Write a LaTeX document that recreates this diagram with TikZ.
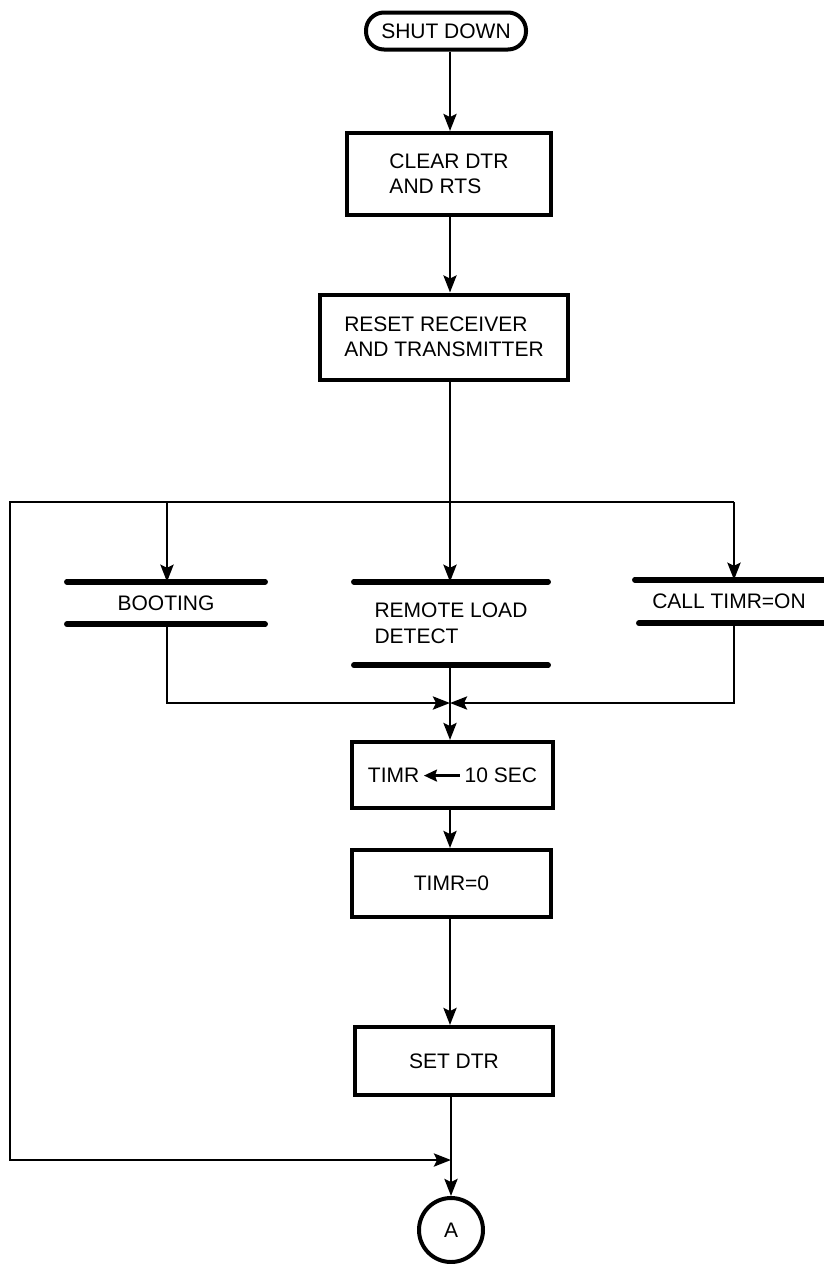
\documentclass[tikz,border=0pt]{standalone}
\usepackage{fontspec}
\setmainfont{Liberation Sans}
\usetikzlibrary{arrows.meta}

\begin{document}
\begin{tikzpicture}[x=1pt,y=-1pt,font=\fontsize{21}{25.5}\selectfont,
  box/.style={draw,line width=4pt,align=left,inner sep=0pt},
  store/.style={align=left,inner sep=0pt},
  bar/.style={line width=5.5pt,line cap=round},
  line/.style={line width=2.8pt},
  flow/.style={line width=2.8pt,-{Stealth[length=17pt,width=13pt,inset=3pt]}}]
  \useasboundingbox (0,0) rectangle (823,1264);
  % start and process boxes
  \node[box,rounded corners=18pt,minimum width=160pt,minimum height=37pt] (shut) at (446,31) {SHUT DOWN};
  \node[box,minimum width=204pt,minimum height=82pt] (clr) at (449,174) {CLEAR DTR\\AND RTS};
  \node[box,minimum width=248pt,minimum height=85pt] (rst) at (444,337) {RESET RECEIVER\\AND TRANSMITTER};
  \coordinate (spine) at (450,502);
  \coordinate (lTop) at (10,502);
  \coordinate (cTop) at (734,502);
  \coordinate (bTop) at (167,502);
  % the three states
  \node[store,minimum width=198pt,minimum height=42pt] (boot) at (166,603) {BOOTING};
  \node[store,minimum width=194pt,minimum height=83pt] (rld) at (451,623.5) {REMOTE LOAD\\DETECT};
  \node[store,minimum width=188pt,minimum height=43pt] (call) at (729,601.5) {CALL TIMR=ON};
  \foreach \n in {boot,rld} {
    \draw[bar] (\n.north west) -- (\n.north east) (\n.south west) -- (\n.south east);
  }
  \draw[bar] (call.north west) -- ++(200,0) (call.south west) ++(4,0) -- ++(200,0);
  \coordinate (merge) at (450,703);
  \node[box,minimum width=201pt,minimum height=66pt] (timr) at (452.5,775)
    {TIMR\,\tikz[baseline=-0.6ex]\draw[line width=2.4pt,{Stealth[length=13pt,width=12pt,inset=2pt]}-] (0pt,0pt) -- (36pt,0pt);\,10 SEC};
  \node[box,minimum width=199pt,minimum height=67pt] (zero) at (451.5,883.5) {TIMR=0};
  \node[box,minimum width=198pt,minimum height=68pt] (set) at (454,1061) {SET DTR};
  \coordinate (join) at (451,1160);
  \coordinate (lBot) at (10,1160);
  \node[draw,circle,line width=4pt,minimum size=64pt,inner sep=0pt] (A) at (451,1230) {A};
  % connectors
  \draw[flow] (shut.south -| spine) -- (clr.north -| spine);
  \draw[flow] (clr.south -| spine) -- (rst.north -| spine);
  \draw[line] (rst.south -| spine) -- (spine);
  \draw[line] (lTop) -- (cTop);
  \draw[flow] (bTop) -- (bTop |- boot.north);
  \draw[flow] (spine) -- (spine |- rld.north);
  \draw[flow] (cTop) -- (cTop |- call.north);
  \draw[flow] (bTop |- boot.south) |- (merge);
  \draw[flow] (cTop |- call.south) |- (merge);
  \draw[flow] (rld.south -| spine) -- (timr.north -| spine);
  \draw[flow] (timr.south -| spine) -- (zero.north -| spine);
  \draw[flow] (zero.south -| spine) -- (set.north -| spine);
  \draw[line] (set.south -| join) -- (join);
  \draw[flow] (spine) -- (lTop) -- (lBot) -- (join);
  \draw[flow] (join) -- (A);
\end{tikzpicture}
\end{document}
